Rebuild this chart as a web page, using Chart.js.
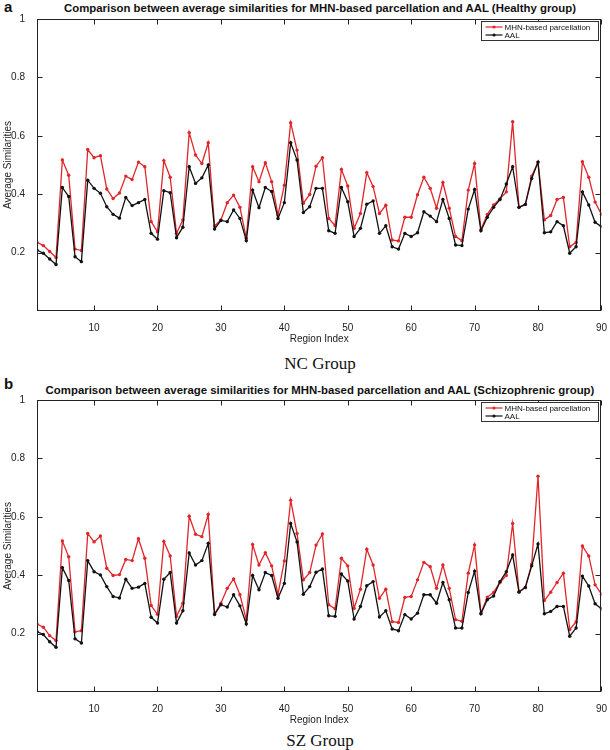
<!DOCTYPE html>
<html>
<head>
<meta charset="utf-8">
<style>
  body { margin: 0; background: #fff; }
  #page { position: relative; width: 610px; height: 750px; overflow: hidden; font-family: "Liberation Sans", Arial, sans-serif; color: #111; }
  .panel { position: absolute; left: 4px; font-weight: bold; font-size: 15px; }
  .ttl { position: absolute; left: 20px; width: 600px; text-align: center; font-weight: bold; font-size: 11.4px; line-height: 12px; white-space: nowrap; }
  .grp { position: absolute; left: 37px; width: 566px; text-align: center; font-family: "Liberation Serif", "DejaVu Serif", serif; font-size: 17px; line-height: 20px; }
  canvas { position: absolute; left: 0; }
</style>
</head>
<body>
<div id="page">
  <div class="panel" style="top:-2px">a</div>
  <div class="ttl" style="top:2px">Comparison between average similarities for MHN-based parcellation and AAL (Healthy group)</div>
  <canvas id="ncChart" width="610" height="349" style="top:0"></canvas>
  <div class="grp" style="top:354px">NC Group</div>

  <div class="panel" style="top:375px">b</div>
  <div class="ttl" style="top:384px">Comparison between average similarities for MHN-based parcellation and AAL (Schizophrenic group)</div>
  <canvas id="szChart" width="610" height="349" style="top:381px"></canvas>
  <div class="grp" style="top:731px">SZ Group</div>
</div>

<script src="https://cdn.jsdelivr.net/npm/chart.js"></script>
<script>
// region index 1..90
const regionIdx = Array.from({ length: 90 }, (_, i) => i + 1);
const xTicks = [10, 20, 30, 40, 50, 60, 70, 80, 90];
const yTicks = [0.2, 0.4, 0.6, 0.8, 1];

// healthy group (NC)
const ncMhn = [
  0.235, 0.224, 0.204, 0.183, 0.517, 0.465, 0.212, 0.207, 0.553, 0.525,
  0.532, 0.418, 0.385, 0.404, 0.462, 0.450, 0.510, 0.494, 0.306, 0.271,
  0.515, 0.458, 0.266, 0.312, 0.611, 0.534, 0.505, 0.576, 0.291, 0.312,
  0.371, 0.397, 0.355, 0.249, 0.494, 0.443, 0.508, 0.443, 0.329, 0.431,
  0.645, 0.551, 0.369, 0.399, 0.496, 0.525, 0.317, 0.293, 0.485, 0.428,
  0.283, 0.334, 0.474, 0.426, 0.334, 0.362, 0.243, 0.240, 0.321, 0.321,
  0.398, 0.458, 0.420, 0.352, 0.440, 0.352, 0.255, 0.241, 0.414, 0.505,
  0.278, 0.331, 0.363, 0.384, 0.408, 0.648, 0.355, 0.365, 0.462, 0.510,
  0.312, 0.327, 0.382, 0.389, 0.220, 0.235, 0.511, 0.458, 0.373, 0.331
];
const ncAal = [
  0.209, 0.198, 0.178, 0.159, 0.423, 0.392, 0.186, 0.169, 0.448, 0.420,
  0.403, 0.357, 0.331, 0.318, 0.389, 0.361, 0.371, 0.382, 0.266, 0.246,
  0.412, 0.405, 0.251, 0.287, 0.494, 0.437, 0.456, 0.500, 0.281, 0.310,
  0.306, 0.346, 0.317, 0.241, 0.414, 0.354, 0.423, 0.409, 0.317, 0.371,
  0.576, 0.517, 0.337, 0.357, 0.420, 0.420, 0.275, 0.266, 0.423, 0.374,
  0.255, 0.283, 0.366, 0.377, 0.266, 0.292, 0.220, 0.212, 0.266, 0.255,
  0.268, 0.340, 0.325, 0.306, 0.382, 0.317, 0.226, 0.224, 0.349, 0.416,
  0.275, 0.321, 0.355, 0.382, 0.435, 0.494, 0.355, 0.365, 0.454, 0.510,
  0.268, 0.271, 0.306, 0.292, 0.198, 0.220, 0.408, 0.363, 0.304, 0.289
];

// schizophrenic group (SZ)
const szMhn = [
  0.233, 0.222, 0.193, 0.176, 0.517, 0.463, 0.206, 0.210, 0.543, 0.514,
  0.534, 0.424, 0.399, 0.402, 0.454, 0.450, 0.525, 0.458, 0.296, 0.266,
  0.516, 0.466, 0.259, 0.304, 0.602, 0.540, 0.532, 0.608, 0.268, 0.304,
  0.355, 0.387, 0.333, 0.248, 0.505, 0.435, 0.477, 0.432, 0.335, 0.449,
  0.657, 0.543, 0.384, 0.409, 0.503, 0.541, 0.299, 0.285, 0.458, 0.432,
  0.287, 0.352, 0.489, 0.435, 0.321, 0.352, 0.241, 0.238, 0.324, 0.327,
  0.384, 0.444, 0.429, 0.355, 0.435, 0.355, 0.248, 0.242, 0.407, 0.504,
  0.270, 0.325, 0.341, 0.375, 0.399, 0.577, 0.344, 0.358, 0.438, 0.739,
  0.313, 0.342, 0.375, 0.407, 0.214, 0.240, 0.500, 0.466, 0.367, 0.335
];
const szAal = [
  0.207, 0.197, 0.172, 0.153, 0.426, 0.382, 0.182, 0.168, 0.450, 0.412,
  0.401, 0.361, 0.327, 0.322, 0.386, 0.355, 0.359, 0.372, 0.256, 0.236,
  0.386, 0.409, 0.236, 0.278, 0.476, 0.435, 0.450, 0.509, 0.265, 0.299,
  0.291, 0.333, 0.295, 0.233, 0.399, 0.350, 0.409, 0.399, 0.321, 0.372,
  0.577, 0.514, 0.335, 0.361, 0.410, 0.421, 0.261, 0.259, 0.404, 0.380,
  0.250, 0.293, 0.364, 0.378, 0.257, 0.278, 0.216, 0.210, 0.265, 0.250,
  0.270, 0.333, 0.333, 0.304, 0.375, 0.316, 0.219, 0.219, 0.341, 0.414,
  0.268, 0.316, 0.329, 0.378, 0.412, 0.469, 0.342, 0.358, 0.432, 0.507,
  0.268, 0.276, 0.293, 0.293, 0.191, 0.219, 0.397, 0.363, 0.302, 0.285
];

const RED = '#e0262b';
const BLACK = '#111111';
const FONT = '"Liberation Sans", Arial, sans-serif';

// matlab style box, inward ticks and legend inside the axes
const boxPlugin = {
  id: 'matlabBox',
  afterDraw(chart) {
    const { ctx, chartArea: a, scales: { x, y } } = chart;
    const L = Math.round(a.left) + 0.5, R = Math.round(a.right) - 0.5;
    const T = Math.round(a.top) + 0.5, B = Math.round(a.bottom) - 0.5;
    ctx.save();
    ctx.strokeStyle = '#222';
    ctx.lineWidth = 1;
    ctx.strokeRect(L, T, R - L, B - T);
    ctx.beginPath();
    xTicks.forEach(v => {
      const px = Math.round(x.getPixelForValue(v)) + 0.5;
      ctx.moveTo(px, B); ctx.lineTo(px, B - 5);
      ctx.moveTo(px, T); ctx.lineTo(px, T + 5);
    });
    yTicks.forEach(v => {
      const py = Math.round(y.getPixelForValue(v)) + 0.5;
      ctx.moveTo(L, py); ctx.lineTo(L + 5, py);
      ctx.moveTo(R, py); ctx.lineTo(R - 5, py);
    });
    ctx.stroke();

    // legend
    const lx = Math.round(a.right) - 120 + 0.5, ly = T + 2, lw = 117, lh = 19;
    ctx.fillStyle = '#fff';
    ctx.fillRect(lx, ly, lw, lh);
    ctx.strokeStyle = '#333';
    ctx.strokeRect(lx, ly, lw, lh);
    ctx.font = '8px ' + FONT;
    ctx.textBaseline = 'middle';
    chart.data.datasets.forEach((ds, i) => {
      const yy = ly + 5.5 + i * 8;
      ctx.strokeStyle = ds.borderColor;
      ctx.lineWidth = 1.2;
      ctx.beginPath();
      ctx.moveTo(lx + 4, yy); ctx.lineTo(lx + 21, yy);
      ctx.stroke();
      ctx.fillStyle = ds.borderColor;
      ctx.beginPath();
      ctx.arc(lx + 12.5, yy, 1.6, 0, Math.PI * 2);
      ctx.fill();
      ctx.fillStyle = '#111';
      ctx.fillText(ds.label, lx + 23, yy + 0.5);
    });
    ctx.restore();
  }
};

function toPoints(vals) {
  return regionIdx.map((r, i) => ({ x: r, y: vals[i] }));
}

function makeChart(id, mhn, aal) {
  return new Chart(document.getElementById(id).getContext('2d'), {
    type: 'line',
    data: {
      datasets: [
        { label: 'MHN-based parcellation', data: toPoints(mhn), order: 2,
          borderColor: RED, backgroundColor: RED, borderWidth: 1.3,
          pointRadius: 1.7, pointBorderWidth: 0, tension: 0 },
        { label: 'AAL', data: toPoints(aal), order: 1,
          borderColor: BLACK, backgroundColor: BLACK, borderWidth: 1.3,
          pointRadius: 1.7, pointBorderWidth: 0, tension: 0 }
      ]
    },
    options: {
      responsive: false,
      animation: false,
      events: [],
      devicePixelRatio: 1,
      layout: { padding: { left: 0, right: 7, top: 19, bottom: 0 } },
      plugins: { legend: { display: false }, tooltip: { enabled: false } },
      scales: {
        x: {
          type: 'linear', min: 1, max: 90,
          grid: { display: false }, border: { display: false },
          afterBuildTicks: s => { s.ticks = xTicks.map(v => ({ value: v })); },
          afterFit: s => { s.height = 38; },
          ticks: { padding: 3, maxRotation: 0, color: '#222', font: { family: FONT, size: 10 },
                   callback: v => String(v) },
          title: { display: true, text: 'Region Index', color: '#222',
                   font: { family: FONT, size: 10 }, padding: { top: 0, bottom: 4 } }
        },
        y: {
          min: 0, max: 1,
          grid: { display: false }, border: { display: false },
          afterBuildTicks: s => { s.ticks = yTicks.map(v => ({ value: v })); },
          afterFit: s => { s.width = 37; },
          ticks: { padding: 4, color: '#222', font: { family: FONT, size: 10 },
                   callback: v => (v === 1 ? '1' : v.toFixed(1)) },
          title: { display: true, text: 'Average Similarities', color: '#222',
                   font: { family: FONT, size: 10 }, padding: { top: 2, bottom: 0 } }
        }
      }
    },
    plugins: [boxPlugin]
  });
}

makeChart('ncChart', ncMhn, ncAal);
makeChart('szChart', szMhn, szAal);
</script>
</body>
</html>
